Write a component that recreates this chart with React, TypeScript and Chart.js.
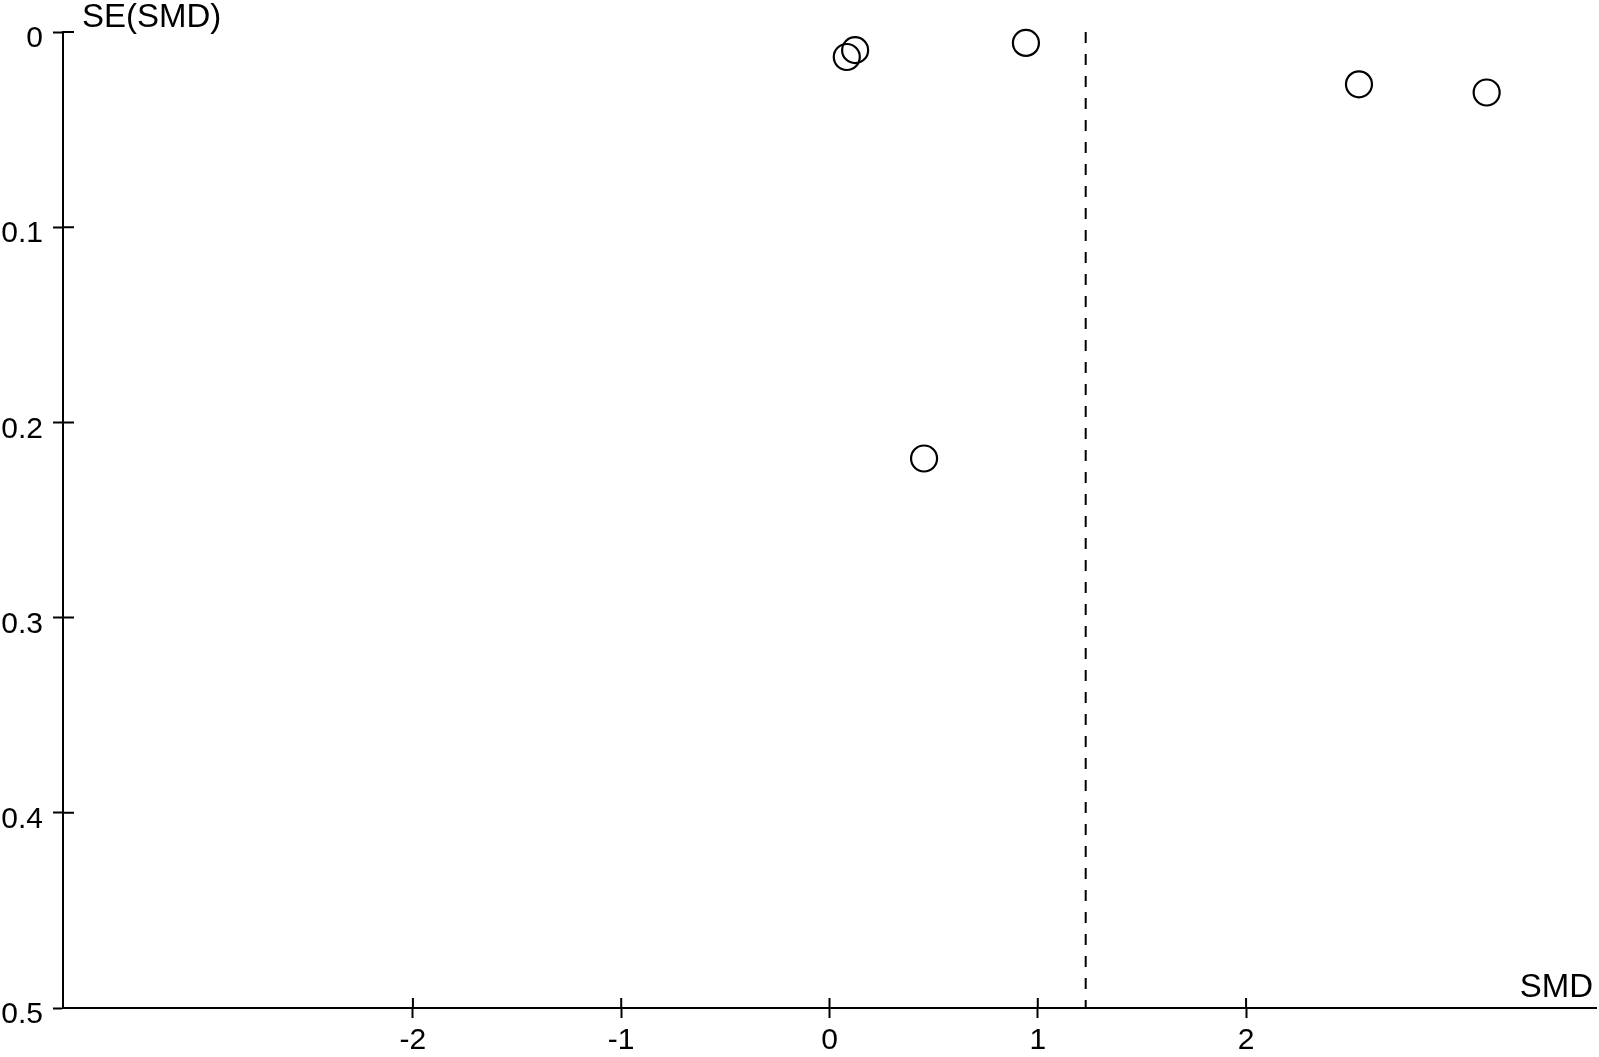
import React, { useEffect, useRef } from "react";
import { Chart, registerables } from "chart.js";

Chart.register(...registerables);

// Study effect sizes (SMD) and their standard errors
const smdValues = [0.083, 0.123, 0.943, 0.454, 2.542, 3.155];
const seValues = [0.0128, 0.0093, 0.0056, 0.2185, 0.0268, 0.031];

// Pooled estimate (dashed vertical line)
const pooledSmd = 1.23;

// Axes
const xTicks = [-2, -1, 0, 1, 2];
const yTicks = [0, 0.1, 0.2, 0.3, 0.4, 0.5];
const xMin = -3.68;
const xMax = 3.68;
const yMin = 0;
const yMax = 0.5;

const yTitle = "SE(SMD)";
const xTitle = "SMD";

const FONT = "'Liberation Sans', Arial, Helvetica, sans-serif";
const TICK_SIZE = 30;
const TITLE_SIZE = 33;

export default function App() {
  const ref = useRef<HTMLCanvasElement>(null);

  useEffect(() => {
    if (!ref.current) return;

    const crossTicks = {
      id: "crossTicks",
      afterDraw(chart: any) {
        const { ctx, chartArea, scales } = chart;
        ctx.save();
        ctx.strokeStyle = "#000";
        ctx.lineWidth = 2;
        ctx.beginPath();
        scales.x.ticks.forEach((t: any) => {
          const px = scales.x.getPixelForValue(t.value);
          ctx.moveTo(px, chartArea.bottom);
          ctx.lineTo(px, chartArea.bottom - 10);
        });
        scales.y.ticks.forEach((t: any) => {
          const py = scales.y.getPixelForValue(t.value);
          ctx.moveTo(chartArea.left, py);
          ctx.lineTo(chartArea.left + 11, py);
        });
        ctx.stroke();

        ctx.fillStyle = "#000";
        ctx.font = `${TITLE_SIZE}px ${FONT}`;
        ctx.textBaseline = "alphabetic";
        ctx.textAlign = "left";
        ctx.fillText(yTitle, chartArea.left + 19, chartArea.top - 5);
        ctx.textAlign = "right";
        ctx.fillText(xTitle, chartArea.right - 3, chartArea.bottom - 11);
        ctx.restore();
      },
    };

    const chart = new Chart(ref.current, {
      type: "scatter",
      data: {
        datasets: [
          {
            label: "Studies",
            data: smdValues.map((x, i) => ({ x, y: seValues[i] })),
            pointRadius: 13,
            pointHoverRadius: 13,
            pointBorderWidth: 2.2,
            borderColor: "#000",
            pointBorderColor: "#000",
            backgroundColor: "rgba(0,0,0,0)",
            pointBackgroundColor: "rgba(0,0,0,0)",
            clip: false,
          } as any,
          {
            label: "Pooled",
            type: "line",
            data: [
              { x: pooledSmd, y: yMin },
              { x: pooledSmd, y: yMax },
            ],
            showLine: true,
            borderColor: "#000",
            borderWidth: 2,
            borderDash: [11, 11],
            pointRadius: 0,
            fill: false,
          } as any,
        ],
      },
      options: {
        animation: false,
        responsive: false,
        events: [],
        layout: { autoPadding: false, padding: { top: 32, right: 3, left: 0, bottom: 0 } },
        plugins: {
          legend: { display: false },
          tooltip: { enabled: false },
        },
        scales: {
          x: {
            type: "linear",
            min: xMin,
            max: xMax,
            afterBuildTicks: (scale: any) => {
              scale.ticks = xTicks.map((v) => ({ value: v }));
            },
            afterFit: (scale: any) => {
              scale.height = 49;
              scale.paddingLeft = 0;
              scale.paddingRight = 0;
            },
            grid: {
              drawOnChartArea: false,
              drawTicks: true,
              tickLength: 10,
              tickWidth: 2,
              tickColor: "#000",
              color: "#000",
            },
            border: { display: true, color: "#000", width: 2 },
            ticks: {
              color: "#000",
              font: { family: FONT, size: TICK_SIZE },
              padding: 5,
              maxRotation: 0,
              autoSkip: false,
              callback: (v: any) => String(v),
            },
          },
          y: {
            type: "linear",
            min: yMin,
            max: yMax,
            reverse: true,
            afterBuildTicks: (scale: any) => {
              scale.ticks = yTicks.map((v) => ({ value: v }));
            },
            afterFit: (scale: any) => {
              scale.width = 63;
              scale.paddingTop = 0;
              scale.paddingBottom = 0;
            },
            grid: {
              drawOnChartArea: false,
              drawTicks: true,
              tickLength: 10,
              tickWidth: 2,
              tickColor: "#000",
              color: "#000",
            },
            border: { display: true, color: "#000", width: 2 },
            ticks: {
              color: "#000",
              font: { family: FONT, size: TICK_SIZE },
              padding: 10,
              labelOffset: 7,
              autoSkip: false,
              callback: (v: any) => String(v),
            },
          },
        },
      } as any,
      plugins: [crossTicks],
    });

    return () => chart.destroy();
  }, []);

  return (
    <div style={{ position: "absolute", left: 0, top: 0, width: 1599, height: 1057, background: "#fff" }}>
      <canvas ref={ref} width={1599} height={1057} style={{ width: 1599, height: 1057, display: "block" }} />
    </div>
  );
}
